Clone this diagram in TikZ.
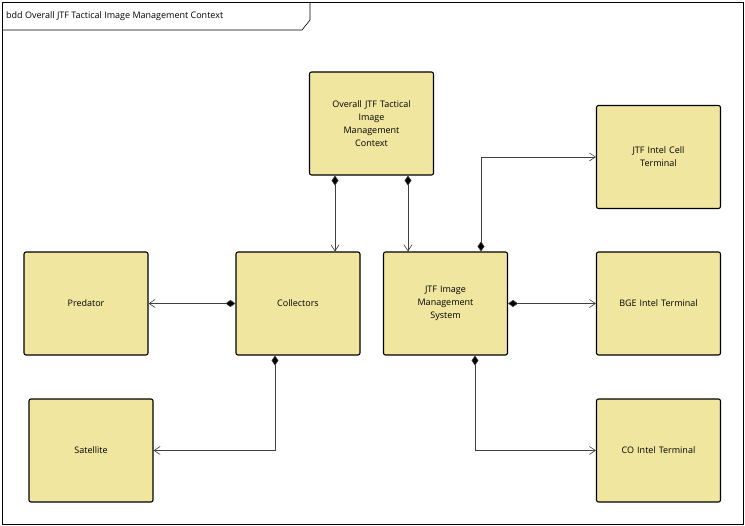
\documentclass[tikz,border=0pt]{standalone}
\usepackage{fontspec}
\setmainfont{Open Sans}
\usetikzlibrary{arrows.meta,positioning}
\definecolor{boxfill}{HTML}{F0E6A0}
\tikzset{
  blk/.style={draw=black, line width=1.1pt, fill=boxfill, rounded corners=2pt, align=center,
    minimum width=124pt, minimum height=103pt, text width=110pt, font=\fontsize{9}{13}\selectfont, inner sep=0pt},
  comp/.style={draw=black!75, line width=0.6pt, {Diamond[length=10pt,width=7pt,fill=black]}-{Straight Barb[length=6pt,width=8pt]}}
}
\begin{document}
\begin{tikzpicture}[x=1pt,y=-1pt]
\useasboundingbox (0,0) rectangle (745,526);
\draw[line width=0.8pt] (2,2) rectangle (743,524);
\draw[line width=0.6pt] (2,30) -- (302,30) -- (310,20) -- (310,2);
\node[anchor=west, font=\fontsize{9}{11}\selectfont, inner sep=0pt] (title) at (6,16) {bdd Overall JTF Tactical Image Management Context};
\node[blk] (ov) at (371.5,123.5) {Overall JTF Tactical\\Image\\Management\\Context};
\node[blk] (cell) at (658.5,157) {JTF Intel Cell\\Terminal};
\node[blk] (pred) at (86,303.5) {Predator};
\node[blk] (coll) at (298,303.5) {Collectors};
\node[blk] (ims) at (445.5,303.5) {JTF Image\\Management\\System};
\node[blk] (bge) at (658.5,303.5) {BGE Intel Terminal};
\node[blk] (sat) at (91,450.5) {Satellite};
\node[blk] (co) at (658.5,450.5) {CO Intel Terminal};
\draw[comp] (ov.south -| 335,0) -- (coll.north -| 335,0);
\draw[comp] (ov.south -| 408,0) -- (ims.north -| 408,0);
\draw[comp] (coll.west) -- (pred.east);
\draw[comp] (coll.south -| 275,0) |- (sat.east);
\draw[comp] (ims.north -| 481,0) |- (cell.west);
\draw[comp] (ims.east) -- (bge.west);
\draw[comp] (ims.south -| 475,0) |- (co.west);
\end{tikzpicture}
\end{document}
